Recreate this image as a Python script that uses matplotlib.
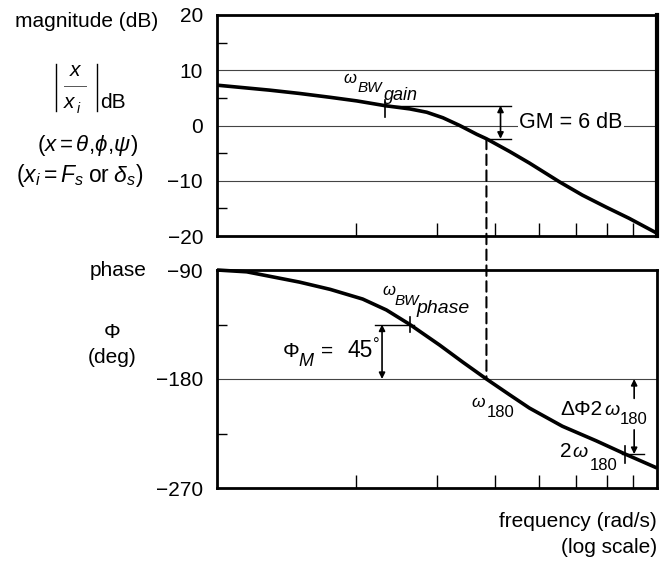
import matplotlib
matplotlib.use('Agg')
import matplotlib.pyplot as plt
from matplotlib.patches import ConnectionPatch
from matplotlib.lines import Line2D

plt.rcParams['font.family'] = ['Liberation Sans', 'DejaVu Sans']
plt.rcParams['mathtext.fontset'] = 'custom'
plt.rcParams['mathtext.rm'] = 'Liberation Sans'
plt.rcParams['mathtext.it'] = 'Liberation Sans:italic'
plt.rcParams['mathtext.bf'] = 'Liberation Sans:bold'

# ---------------- data ----------------
freq_mag = [1.0, 1.30, 1.51, 1.76, 2.01, 2.31, 2.62, 2.85, 3.09, 3.36, 3.66,
            3.84, 4.31, 4.76, 5.53, 6.20, 6.99, 7.83, 9.0]
mag_db = [7.3, 6.4, 5.8, 5.1, 4.45, 3.6, 3.0, 2.4, 1.4, 0.0, -1.6,
          -2.4, -4.7, -6.8, -10.2, -12.6, -14.8, -16.8, -19.5]

freq_phase = [1.0, 1.16, 1.51, 1.76, 2.07, 2.33, 2.62, 3.04, 3.41, 3.84, 4.31,
              4.76, 5.61, 6.64, 7.68, 9.0]
phase_deg = [-90, -91.5, -100, -106, -114, -123, -135, -152, -166, -180, -193,
             -204, -219, -231, -242, -253.5]

mag_ticks = [20, 10, 0, -10, -20]
mag_minor = [15, 5, -5, -15]
mag_grid = [10, 0, -10]
phase_ticks = [-90, -180, -270]
phase_minor = [-135, -225]
phase_grid = [-180]
freq_ticks = [2, 3, 4, 5, 6, 7, 8]
freq_lim = (1, 9)

w_bw_gain = 2.31
w_bw_phase = 2.62
w180 = 3.84
w2_180 = 7.68
mag_at_w180 = -2.4
gm_db = 6
phase_at_w180 = -180
pm_deg = 45
phase_at_2w180 = -242

# ---------------- figure ----------------
W, H = 661, 563
fig = plt.figure(figsize=(W / 100, H / 100), dpi=100)
FS = 15


def fx(px):
    return px / W


def fy(py):
    return 1 - py / H


def t(px, py, s, size=FS, italic=False, ha='left', va='baseline'):
    fig.text(fx(px), fy(py), s, fontsize=size,
             style='italic' if italic else 'normal', ha=ha, va=va)


L, R = 217, 657
ax1 = fig.add_axes([fx(L), fy(236), fx(R) - fx(L), fy(15) - fy(236)])
ax2 = fig.add_axes([fx(L), fy(488), fx(R) - fx(L), fy(270) - fy(488)])

for ax, yt, ym, yg in [(ax1, mag_ticks, mag_minor, mag_grid),
                       (ax2, phase_ticks, phase_minor, phase_grid)]:
    ax.set_xscale('log')
    ax.set_xlim(*freq_lim)
    ax.set_xticks(freq_ticks)
    ax.set_xticks([], minor=True)
    ax.set_xticklabels([])
    ax.tick_params(axis='x', which='major', direction='in', length=9.5, width=1.0)
    ax.set_yticks(yt)
    ax.set_yticks(ym, minor=True)
    ax.tick_params(axis='y', which='major', length=0, pad=10, labelsize=FS)
    ax.tick_params(axis='y', which='minor', direction='in', length=7, width=1.0)
    for s in ax.spines.values():
        s.set_linewidth(2.0)
    for g in yg:
        ax.axhline(g, color='#444444', lw=0.8, zorder=1)

ax1.set_ylim(-20, 20)
ax2.set_ylim(-270, -90)
ax1.spines['right'].set_linewidth(3.0)

ax1.plot(freq_mag, mag_db, color='black', lw=2.6, zorder=3, clip_on=False,
         solid_capstyle='butt', solid_joinstyle='round')
ax2.plot(freq_phase, phase_deg, color='black', lw=2.6, zorder=3, clip_on=False,
         solid_capstyle='butt', solid_joinstyle='round')

arrow_kw = dict(arrowstyle='<|-|>', lw=1.2, color='black', mutation_scale=9,
                shrinkA=0, shrinkB=0)
one_kw = dict(arrowstyle='-|>', lw=1.2, color='black', mutation_scale=9,
              shrinkA=0, shrinkB=0)

# ----- magnitude annotations -----
gm_top = mag_at_w180 + gm_db
ax1.plot([w_bw_gain, w_bw_gain], [4.6, 1.6], color='black', lw=1.2, zorder=4)
ax1.plot([w_bw_gain, 4.35], [gm_top, gm_top], color='black', lw=1.0, zorder=4)
ax1.plot([w180, 4.35], [mag_at_w180, mag_at_w180], color='black', lw=1.0, zorder=4)
ax1.annotate('', xy=(4.12, gm_top), xytext=(4.12, mag_at_w180), arrowprops=arrow_kw)
fig.text(fx(519), fy(122), 'GM = 6 dB', fontsize=15.5, ha='left', va='center',
         bbox=dict(facecolor='white', edgecolor='none', pad=1.0), zorder=5)

t(343, 83, 'ω', 12, italic=True)
t(358, 92, 'BW', 11, italic=True)
t(384, 100, 'gain', 13, italic=True)

# dashed link at w180
con = ConnectionPatch(xyA=(w180, mag_at_w180), coordsA=ax1.transData,
                      xyB=(w180, phase_at_w180), coordsB=ax2.transData,
                      color='black', lw=1.5, linestyle=(0, (5, 2.6)), zorder=2)
fig.add_artist(con)

# ----- phase annotations -----
pm_top = phase_at_w180 + pm_deg
ax2.plot([w_bw_phase, w_bw_phase], [-129, -141], color='black', lw=1.2, zorder=4)
ax2.plot([2.20, 2.68], [pm_top, pm_top], color='black', lw=1.0, zorder=4)
ax2.annotate('', xy=(2.28, pm_top), xytext=(2.28, phase_at_w180), arrowprops=arrow_kw)

ax2.plot([w2_180, w2_180], [-235, -249], color='black', lw=1.2, zorder=4)
ax2.plot([7.57, 8.44], [phase_at_2w180, phase_at_2w180], color='black', lw=1.0, zorder=4)
ax2.annotate('', xy=(8.03, phase_at_w180), xytext=(8.03, -196), arrowprops=one_kw)
ax2.annotate('', xy=(8.03, phase_at_2w180), xytext=(8.03, -222), arrowprops=one_kw)

t(382, 295, 'ω', 12, italic=True)
t(395, 305, 'BW', 11, italic=True)
t(416, 313, 'phase', 14, italic=True)

t(283, 357, 'Φ', FS)
t(298, 366, 'M', 13, italic=True)
t(321, 357, '=', FS)
t(373, 357, '45', 16.5, ha='right')
t(373, 350, '°', 12)

t(471, 407, 'ω', 12.5, italic=True)
t(487, 417, '180', 12)

t(560, 415, 'ΔΦ2', FS)
t(604, 415, 'ω', 14, italic=True)
t(620, 424, '180', 12)

t(560, 457, '2', FS)
t(572, 457, 'ω', 14, italic=True)
t(590, 470, '180', 12)

# ----- left labels -----
t(15, 27, 'magnitude (dB)', FS)
fig.add_artist(Line2D([fx(56), fx(56)], [fy(64), fy(111)], color='black', lw=1.0,
                      transform=fig.transFigure))
fig.add_artist(Line2D([fx(97), fx(97)], [fy(64), fy(111)], color='black', lw=1.0,
                      transform=fig.transFigure))
fig.add_artist(Line2D([fx(64), fx(86)], [fy(86), fy(86)], color='#555555', lw=0.7,
                      transform=fig.transFigure))
t(75, 76, 'x', FS, italic=True, ha='center')
t(64, 108, 'x', FS, italic=True)
t(77, 113, 'i', 10, italic=True)
t(100, 108, 'dB', FS)
t(88, 151, r'$(x = \theta,\!\phi,\!\psi)$', 16, ha='center')
t(80, 182, r'$(x_i = F_s\;\mathrm{or}\;\delta_s)$', 16.5, ha='center')

t(147, 276, 'phase', FS, ha='right')
t(112, 338, 'Φ', FS, ha='center')
t(112, 363, '(deg)', FS, ha='center')

t(657, 527, 'frequency (rad/s)', FS, ha='right')
t(657, 553, '(log scale)', FS, ha='right')

fig.savefig('out.png', dpi=100)
